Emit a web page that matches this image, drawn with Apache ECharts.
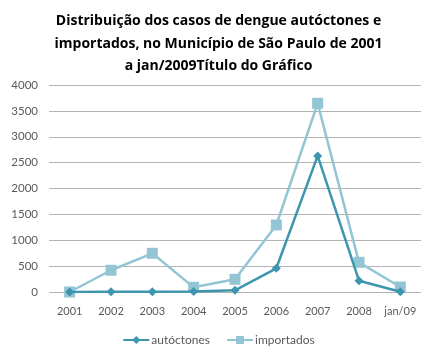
<!DOCTYPE html>
<html><head><meta charset="utf-8">
<script src="https://cdn.jsdelivr.net/npm/echarts@6/dist/echarts.min.js"></script>
<style>html,body{margin:0;padding:0;background:#fff}#c{width:437px;height:361px}</style>
</head><body><div id="c"></div>
<script>
const categories = ['2001','2002','2003','2004','2005','2006','2007','2008','jan/09'];
const autoctones = [0, 5, 5, 10, 33, 458, 2630, 218, 6];
const importados = [0, 420, 748, 90, 245, 1295, 3646, 573, 97];
const yTicks = [0, 500, 1000, 1500, 2000, 2500, 3000, 3500, 4000];

const chart = echarts.init(document.getElementById('c'));
chart.setOption({
  animation: false,
  title: {
    text: 'Distribuição dos casos de dengue autóctones e\nimportados, no Município de São Paulo de 2001\na jan/2009Título do Gráfico',
    left: 'center', top: 5,
    textStyle: {fontFamily: 'Open Sans', fontWeight: 'bold', fontSize: 14, lineHeight: 22.5, color: '#000'}
  },
  legend: {
    bottom: 10, left: 'center', itemWidth: 26, itemHeight: 10, itemGap: 16,
    textStyle: {fontFamily: 'Lato', fontSize: 12, color: '#595959', padding: [0,0,0,-3]},
    data: ['autóctones', 'importados']
  },
  grid: {left: 49, right: 16, top: 85, bottom: 69},
  xAxis: {
    type: 'category', data: categories, boundaryGap: true,
    axisLine: {show: false}, axisTick: {show: false},
    axisLabel: {fontFamily: 'Lato', fontSize: 11, color: '#595959', margin: 14, interval: 0}
  },
  yAxis: {
    type: 'value', min: yTicks[0], max: yTicks[yTicks.length-1], interval: 500,
    axisLine: {show: false}, axisTick: {show: false},
    axisLabel: {fontFamily: 'Lato', fontSize: 11.5, color: '#595959', margin: 11, formatter: v => String(v)},
    splitLine: {lineStyle: {color: '#b3b3b3', width: 1}}
  },
  series: [
    {name: 'autóctones', type: 'line', data: autoctones, symbol: 'diamond', symbolSize: 9,
     lineStyle: {color: '#3D96AE', width: 2.5}, itemStyle: {color: '#3D96AE'}, z: 3},
    {name: 'importados', type: 'line', data: importados, symbol: 'rect', symbolSize: 11,
     lineStyle: {color: '#93C5D5', width: 2.5}, itemStyle: {color: '#93C5D5'}, z: 2}
  ]
});
</script></body></html>
